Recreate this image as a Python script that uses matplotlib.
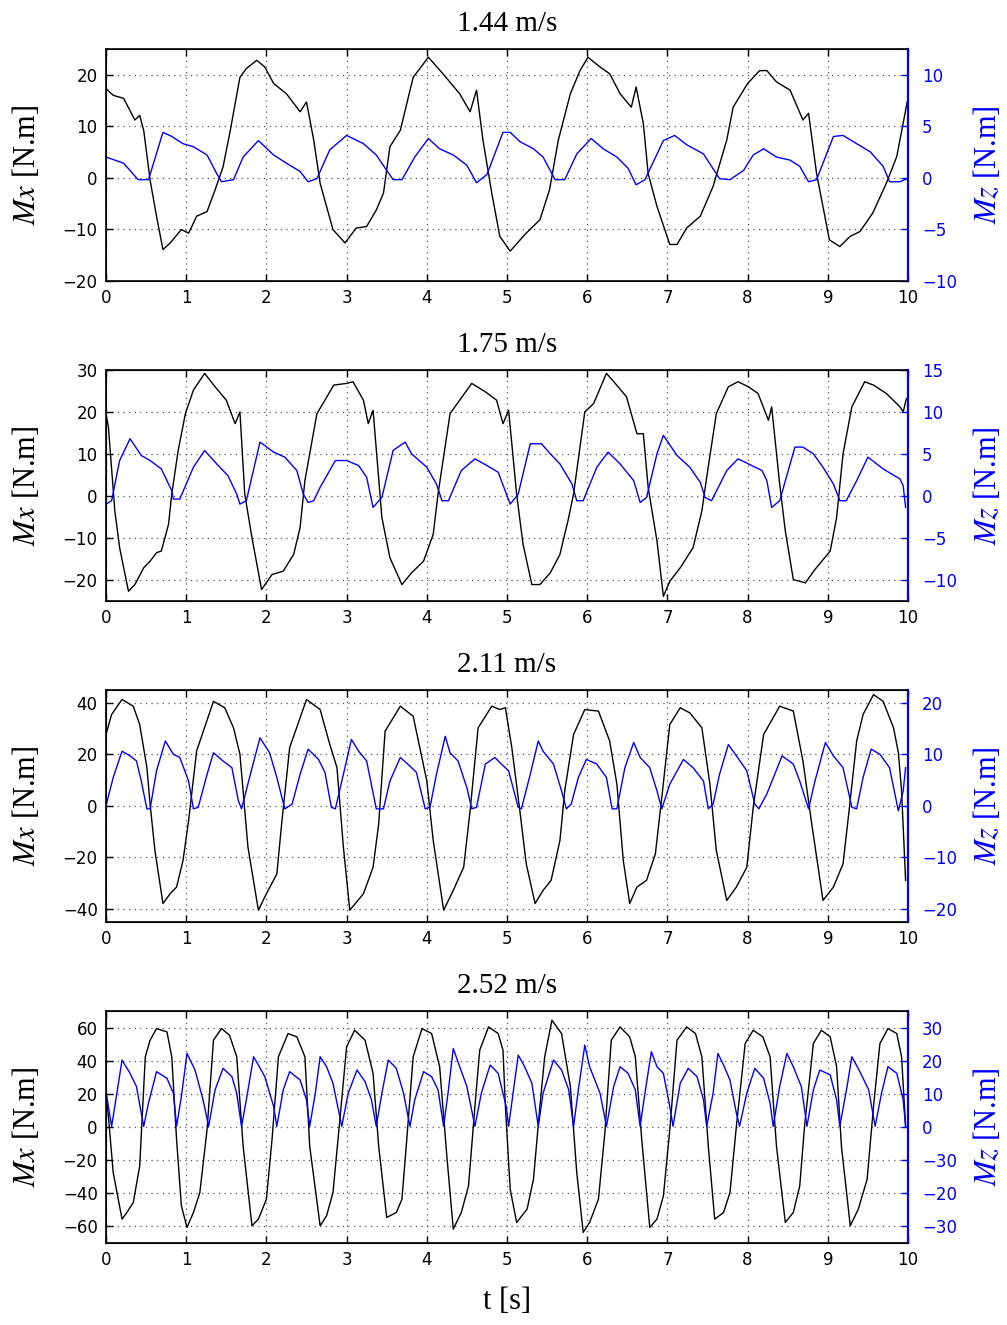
import matplotlib
matplotlib.use("Agg")
import matplotlib.pyplot as plt

plt.rcParams['mathtext.fontset'] = 'stix'
plt.rcParams['font.family'] = 'DejaVu Sans'

SERIF = 'Liberation Serif'

# ---- data (t [s], moment [N.m]) ----
titles = ["1.44 m/s", "1.75 m/s", "2.11 m/s", "2.52 m/s"]

# panel 1: 1.44 m/s
t_mx1 = [0, 0.09, 0.22, 0.36, 0.42, 0.47, 0.55, 0.63, 0.71, 0.8, 0.94, 1.03, 1.13, 1.26, 1.36,
         1.46, 1.55, 1.67, 1.75, 1.88, 1.98, 2.09, 2.25, 2.42, 2.5, 2.59, 2.67, 2.83, 2.98, 3.12,
         3.25, 3.37, 3.46, 3.54, 3.67, 3.83, 4.02, 4.2, 4.41, 4.54, 4.62, 4.7, 4.81, 4.91, 5.04,
         5.22, 5.41, 5.53, 5.64, 5.79, 5.91, 6.01, 6.16, 6.28, 6.41, 6.55, 6.61, 6.7, 6.76, 6.87,
         7.03, 7.12, 7.24, 7.41, 7.57, 7.74, 7.82, 8.0, 8.15, 8.24, 8.36, 8.53, 8.69, 8.76, 8.86,
         9.02, 9.15, 9.28, 9.4, 9.56, 9.73, 9.86, 9.99]
mx1 = [17.3, 16, 15.4, 11.2, 12.1, 9.2, -0.5, -7.5, -14, -12.7, -10.1, -10.8, -7.5, -6.6, -2.4,
       2.1, 9.2, 19.5, 21.2, 22.8, 21.5, 18.3, 16.3, 12.8, 14.7, 7.3, -1.1, -10.1, -12.7, -9.8,
       -9.5, -6.3, -3, 6, 9.2, 19.5, 23.4, 20.2, 16.3, 12.8, 17, 7.3, -3, -11.4, -14.3,
       -11.1, -8.2, -2.4, 7.3, 16.3, 20.8, 23.4, 21.5, 20.2, 16.3, 13.7, 17.6, 10.5, 0.8, -5.6,
       -13, -13, -9.8, -7.5, -1.7, 7.3, 13.7, 18.3, 20.8, 20.8, 18.6, 17, 11.2, 12.5, 0.8,
       -12.1, -13.4, -11.4, -10.5, -6.9, -1.1, 4.1, 14.7]
t_mz1 = [0, 0.22, 0.4, 0.53, 0.71, 0.82, 0.96, 1.09, 1.26, 1.38, 1.44, 1.59, 1.71, 1.9, 2.09,
         2.25, 2.42, 2.52, 2.63, 2.79, 3.0, 3.21, 3.37, 3.5, 3.58, 3.69, 3.85, 4.02, 4.16, 4.33,
         4.5, 4.62, 4.75, 4.95, 5.04, 5.16, 5.33, 5.45, 5.6, 5.72, 5.87, 6.05, 6.2, 6.37, 6.51,
         6.61, 6.72, 6.95, 7.09, 7.24, 7.45, 7.65, 7.78, 7.95, 8.07, 8.2, 8.36, 8.53, 8.65, 8.76,
         8.86, 9.07, 9.19, 9.36, 9.53, 9.69, 9.77, 9.9, 9.99]
mz1 = [2.0, 1.4, -0.2, -0.2, 4.4, 4.0, 3.3, 3.0, 2.2, 0.4, -0.4, -0.2, 2.0, 3.6, 2.2,
       1.4, 0.6, -0.4, -0.1, 2.7, 4.1, 3.3, 2.2, 0.7, -0.2, -0.2, 2.0, 3.8, 2.8, 2.2,
       1.2, -0.5, 0.3, 4.4, 4.4, 3.5, 2.8, 2.0, -0.2, -0.2, 2.3, 3.8, 2.8, 2.0, 0.9,
       -0.7, -0.2, 3.6, 4.1, 3.2, 2.3, -0.1, -0.2, 0.7, 2.2, 2.8, 2.0, 1.7, 1.1, -0.4,
       -0.2, 4.0, 4.1, 3.3, 2.5, 1.1, -0.4, -0.4, -0.1]

# panel 2: 1.75 m/s
t_mx2 = [0, 0.03, 0.11, 0.17, 0.28, 0.36, 0.47, 0.55, 0.63, 0.69, 0.78, 0.82, 0.9, 0.99, 1.09,
         1.23, 1.36, 1.5, 1.61, 1.67, 1.73, 1.82, 1.94, 2.07, 2.21, 2.34, 2.42, 2.48, 2.63, 2.73,
         2.84, 3.0, 3.08, 3.21, 3.27, 3.33, 3.44, 3.54, 3.69, 3.81, 3.96, 4.08, 4.14, 4.29, 4.41,
         4.56, 4.73, 4.87, 4.95, 5.02, 5.12, 5.2, 5.31, 5.41, 5.54, 5.66, 5.76, 5.83, 5.97, 6.08,
         6.16, 6.24, 6.35, 6.49, 6.62, 6.7, 6.76, 6.87, 6.95, 7.03, 7.16, 7.32, 7.43, 7.49, 7.61,
         7.76, 7.88, 8.01, 8.13, 8.26, 8.3, 8.4, 8.47, 8.57, 8.72, 8.84, 9.03, 9.11, 9.19, 9.3,
         9.46, 9.57, 9.73, 9.9, 9.94, 9.98]
mx2 = [19.6, 16.4, -3.6, -12.4, -22.8, -21.2, -17.2, -15.6, -13.6, -13.2, -6.8, 0.4, 10.8, 19.6, 25.2,
       29.2, 26, 22.8, 17.2, 20, 0.4, -10, -22.4, -18.8, -18, -14, -7.6, 3.6, 19.6, 22.8,
       26.4, 26.8, 27.2, 22.8, 17.2, 20.4, -5.2, -14.8, -21.2, -18.4, -15.6, -9.2, 0.4, 19.6, 22.8,
       26.8, 24.8, 22.8, 17.2, 20.4, 0.4, -11.6, -21.2, -21.2, -18.4, -14, -6, 0.4, 20, 22,
       25.6, 29.2, 26.8, 23.6, 14.8, 14.8, 2, -10.8, -24, -20.4, -17.2, -12.4, -3.6, 4.4, 19.6,
       26, 27.2, 26, 24.4, 18, 21.2, 2.8, -8.4, -20, -20.8, -17.6, -13.2, -5.2, 10, 21.2,
       27.2, 26.4, 24.4, 21.2, 20, 23.2]
t_mz2 = [0, 0.07, 0.17, 0.3, 0.44, 0.55, 0.69, 0.82, 0.84, 0.92, 1.09, 1.23, 1.38, 1.52, 1.63,
         1.67, 1.75, 1.92, 2.09, 2.23, 2.38, 2.46, 2.52, 2.59, 2.67, 2.86, 3.0, 3.15, 3.25, 3.33,
         3.44, 3.58, 3.73, 3.81, 4.0, 4.12, 4.19, 4.27, 4.43, 4.6, 4.75, 4.89, 5.04, 5.14, 5.29,
         5.43, 5.54, 5.66, 5.81, 5.87, 5.95, 6.12, 6.26, 6.41, 6.58, 6.66, 6.74, 6.87, 6.95, 7.12,
         7.28, 7.41, 7.47, 7.55, 7.74, 7.88, 8.01, 8.18, 8.24, 8.3, 8.4, 8.59, 8.69, 8.82, 8.94,
         9.07, 9.15, 9.23, 9.36, 9.5, 9.69, 9.9, 9.94, 9.97]
mz2 = [-1, -0.6, 4.2, 6.8, 4.8, 4.2, 3.2, 0.6, -0.4, -0.4, 3.4, 5.4, 3.8, 2.4, 0.2,
       -1, -0.6, 6.4, 5.2, 4.6, 3, 0.2, -0.8, -0.6, 1, 4.2, 4.2, 3.6, 2.2, -1.4,
       -0.2, 5.4, 6.4, 5, 3.4, 1.4, -0.6, -0.6, 3, 4.4, 3.6, 2.8, -1, 0.2, 6.2,
       6.2, 5, 3.8, 1.4, -0.6, -0.6, 3.4, 5.2, 3.8, 1.8, -0.8, -0.2, 5, 7.2, 4.8,
       3.4, 1.6, -0.2, -0.6, 3, 4.4, 3.8, 3, 1.8, -1.4, -0.6, 5.8, 5.8, 5, 3.4,
       1.4, -0.6, -0.6, 1.8, 4.6, 3.2, 2, 1.2, -1.4]

# panel 3: 2.11 m/s
t_mx3 = [0, 0.07, 0.2, 0.34, 0.42, 0.51, 0.55, 0.61, 0.71, 0.8, 0.88, 0.96, 1.03, 1.13, 1.34,
         1.48, 1.59, 1.67, 1.77, 1.9, 2.0, 2.13, 2.19, 2.29, 2.5, 2.67, 2.79, 2.88, 2.96, 3.04,
         3.21, 3.33, 3.4, 3.48, 3.67, 3.83, 4.0, 4.08, 4.21, 4.33, 4.46, 4.54, 4.64, 4.81, 4.91,
         4.98, 5.06, 5.16, 5.24, 5.35, 5.45, 5.55, 5.66, 5.72, 5.83, 5.97, 6.14, 6.28, 6.37, 6.45,
         6.53, 6.62, 6.74, 6.85, 6.93, 7.03, 7.16, 7.28, 7.43, 7.53, 7.61, 7.74, 7.86, 7.99, 8.07,
         8.2, 8.4, 8.57, 8.69, 8.8, 8.94, 9.07, 9.19, 9.27, 9.36, 9.44, 9.57, 9.69, 9.82, 9.88,
         9.92, 9.97]
mx3 = [27.7, 35.5, 41.3, 38.7, 31.6, 14.8, 0.6, -17.4, -38, -34.2, -31.6, -21.3, -5.8, 21.3, 40.6,
       38.1, 30.3, 20, -16.1, -40.6, -34.2, -26.5, -7.1, 22.6, 41.3, 37.4, 23.9, 14.8, -16.1, -40.6,
       -34.2, -23.9, -7.1, 29, 38.7, 34.8, 9.7, -13.5, -40.6, -32.9, -23.9, -1.9, 30.3, 38.7, 37.4,
       38.1, 22.6, -1.9, -22.6, -38, -32.9, -29, -13.5, 5.8, 27.7, 37.4, 36.8, 25.2, 8.4, -21.3,
       -38, -31.6, -29, -18.7, 3.2, 31.6, 38.1, 36.1, 30.3, 8.4, -17.4, -36.8, -31.6, -23.9, -0.6,
       27.7, 38.7, 36.8, 17.4, -7.1, -36.8, -31.6, -22.6, -0.6, 25.2, 35.5, 43.2, 40.6, 30.3, 20.6,
       5.8, -29]
t_mz3 = [0, 0.09, 0.2, 0.3, 0.38, 0.44, 0.51, 0.55, 0.63, 0.74, 0.84, 0.92, 1.03, 1.09, 1.15,
         1.26, 1.34, 1.46, 1.57, 1.65, 1.69, 1.8, 1.92, 2.04, 2.13, 2.23, 2.32, 2.42, 2.52, 2.65,
         2.73, 2.81, 2.86, 2.96, 3.06, 3.15, 3.25, 3.37, 3.46, 3.54, 3.67, 3.79, 3.87, 3.98, 4.04,
         4.12, 4.23, 4.29, 4.39, 4.5, 4.56, 4.62, 4.73, 4.85, 4.91, 5.02, 5.14, 5.18, 5.29, 5.39,
         5.45, 5.58, 5.68, 5.74, 5.8, 5.89, 5.99, 6.12, 6.24, 6.31, 6.37, 6.47, 6.58, 6.66, 6.78,
         6.87, 6.93, 7.03, 7.2, 7.32, 7.45, 7.51, 7.57, 7.65, 7.76, 7.86, 7.99, 8.09, 8.14, 8.24,
         8.43, 8.57, 8.65, 8.76, 8.84, 8.97, 9.07, 9.19, 9.3, 9.36, 9.44, 9.54, 9.65, 9.77, 9.88,
         9.94, 9.97]
mz3 = [0, 5.5, 10.6, 9.7, 8.7, 4.8, -0.6, -0.6, 6.8, 12.6, 10, 9.4, 4.8, -0.6, -0.3,
       6.1, 10.3, 8.7, 7.4, 1, -0.6, 6.1, 13.2, 10.3, 5.5, -0.6, 0.3, 6.1, 11, 9,
       6.5, -0.3, -0.6, 6.1, 12.9, 10.6, 8.7, -0.6, -0.6, 4.8, 9.4, 7.7, 6.5, -0.6, -0.3,
       6.1, 13.5, 10.3, 8.7, 3.5, -0.6, -0.3, 8.1, 9.4, 8.4, 6.8, -0.3, -0.6, 6.1, 12.6,
       10.6, 8.1, 2.9, -0.6, 0.3, 5.5, 9, 8.1, 5.5, -0.6, -0.6, 7.4, 12.3, 9.4, 7.4,
       2.9, -0.6, 4.2, 9, 7.4, 4.8, -0.6, 0.3, 6.1, 11.9, 9.7, 6.8, 0.3, -0.6, 2.3,
       9.7, 8.1, 4.8, -0.6, 4.8, 12.3, 9.7, 7.4, -0.3, -0.6, 5.5, 11, 10, 7.4, -1,
       2.9, 7.4]

# panel 4: 2.52 m/s
t_mx4 = [0, 0.03, 0.09, 0.2, 0.26, 0.34, 0.42, 0.49, 0.55, 0.63, 0.76, 0.82, 0.88, 0.94, 1.01,
         1.09, 1.17, 1.26, 1.34, 1.44, 1.54, 1.63, 1.71, 1.82, 1.9, 2.0, 2.07, 2.15, 2.27, 2.38,
         2.48, 2.54, 2.67, 2.75, 2.83, 2.92, 3.0, 3.1, 3.23, 3.33, 3.4, 3.5, 3.62, 3.69, 3.75,
         3.83, 3.94, 4.06, 4.16, 4.25, 4.33, 4.43, 4.52, 4.6, 4.66, 4.77, 4.89, 4.95, 4.98, 5.04,
         5.12, 5.25, 5.33, 5.41, 5.47, 5.56, 5.68, 5.79, 5.87, 5.95, 6.03, 6.14, 6.22, 6.3, 6.41,
         6.53, 6.6, 6.68, 6.78, 6.87, 6.95, 7.03, 7.12, 7.24, 7.35, 7.43, 7.51, 7.59, 7.7, 7.78,
         7.86, 7.97, 8.07, 8.19, 8.28, 8.36, 8.47, 8.57, 8.65, 8.71, 8.82, 8.92, 9.03, 9.11, 9.17,
         9.28, 9.38, 9.49, 9.57, 9.65, 9.75, 9.86, 9.92, 9.97]
mx4 = [20.4, 6.4, -27.6, -55.6, -51.6, -45.6, -23.6, 42.4, 52.4, 59.4, 57.4, 42.4, -7.6, -47.6, -60.6,
       -51.6, -39.6, -1.6, 52.4, 59.4, 55.4, 42.4, -11.6, -59.6, -55.6, -43.6, -7.6, 42.4, 56.4, 54.4,
       42.4, -11.6, -59.6, -53.6, -39.6, 6.4, 48.4, 58.4, 52.4, 32.4, -11.6, -54.6, -51.6, -43.6, -7.6,
       42.4, 59.4, 56.4, 36.4, -17.6, -61.6, -51.6, -35.6, 12.4, 46.4, 60.4, 56.4, 46.4, 12.4, -37.6,
       -57.6, -49.6, -31.6, 12.4, 42.4, 64.4, 56.4, 24.4, -27.6, -63.6, -57.6, -43.6, -3.6, 52.4, 60.4,
       54.4, 42.4, -7.6, -60.6, -55.6, -41.6, -1.6, 52.4, 60.4, 56.4, 42.4, -11.6, -55.6, -51.6, -39.6,
       0.4, 50.4, 58.4, 54.4, 42.4, -11.6, -57.6, -51.6, -35.6, 0.4, 50.4, 58.4, 54.4, 36.4, -11.6,
       -59.6, -49.6, -31.6, 12.4, 50.4, 59.4, 56.4, 42.4, 0.4]
t_mz4 = [0, 0.07, 0.11, 0.2, 0.3, 0.38, 0.47, 0.53, 0.63, 0.76, 0.84, 0.88, 0.94, 1.01, 1.11,
         1.21, 1.28, 1.36, 1.46, 1.57, 1.63, 1.69, 1.75, 1.84, 1.9, 1.98, 2.09, 2.13, 2.21, 2.29,
         2.42, 2.5, 2.54, 2.61, 2.67, 2.75, 2.83, 2.94, 3.02, 3.13, 3.23, 3.31, 3.37, 3.44, 3.52,
         3.62, 3.71, 3.79, 3.85, 3.96, 4.06, 4.14, 4.21, 4.27, 4.33, 4.41, 4.5, 4.6, 4.68, 4.79,
         4.89, 4.99, 5.02, 5.14, 5.22, 5.31, 5.39, 5.45, 5.58, 5.68, 5.77, 5.83, 5.89, 5.97, 6.03,
         6.16, 6.24, 6.33, 6.41, 6.51, 6.6, 6.66, 6.72, 6.8, 6.87, 6.95, 7.03, 7.07, 7.16, 7.26,
         7.37, 7.45, 7.49, 7.57, 7.63, 7.7, 7.78, 7.86, 7.9, 7.99, 8.09, 8.2, 8.28, 8.32, 8.4,
         8.49, 8.57, 8.67, 8.74, 8.82, 8.9, 9.03, 9.11, 9.15, 9.24, 9.3, 9.4, 9.51, 9.59, 9.67,
         9.75, 9.86, 9.94, 9.97]
mz4 = [10.7, 0.2, 6.2, 20.2, 16.2, 12.2, 0.2, 7.2, 16.7, 14.7, 10.2, 0.2, 9.2, 22.2, 17.2,
       8.2, 0.2, 11.2, 17.7, 15.2, 10.2, 0.2, 8.2, 21.2, 18.7, 15.2, 6.2, 0.2, 11.2, 16.7,
       14.2, 8.2, 0.2, 10.2, 21.2, 18.2, 13.2, 0.2, 10.2, 17.2, 13.7, 8.2, 0.2, 10.2, 20.2,
       17.7, 10.2, 0.2, 8.2, 16.7, 15.2, 11.2, 0.2, 11.2, 23.7, 18.2, 12.2, 0.2, 10.2, 18.7,
       16.2, 6.2, 0.2, 21.7, 18.2, 13.2, 0.2, 10.2, 20.2, 17.2, 11.2, 0.2, 11.2, 24.7, 18.2,
       10.2, 0.2, 12.2, 18.2, 16.2, 11.2, 0.2, 10.2, 22.7, 18.2, 16.2, 6.2, 0.2, 13.2, 17.7,
       15.2, 8.2, 0.2, 10.2, 22.2, 18.7, 14.2, 4.2, 0.2, 10.2, 17.7, 14.7, 7.2, 0.2, 12.2,
       22.2, 18.2, 12.2, 0.2, 11.2, 17.2, 15.7, 8.2, 0.2, 12.2, 21.2, 16.7, 11.2, 0.2, 10.2,
       18.2, 16.2, 8.2, 0.2]

# axis limits and ticks per panel
mx_lims = [(-20, 25), (-25, 30), (-45, 45), (-70, 70)]
mx_ticks = [[-20, -10, 0, 10, 20], [-20, -10, 0, 10, 20, 30], [-40, -20, 0, 20, 40],
            [-60, -40, -20, 0, 20, 40, 60]]
mz_lims = [(-10, 12.5), (-12.5, 15), (-22.5, 22.5), (-35, 35)]
mz_ticks = [[-10, -5, 0, 5, 10], [-10, -5, 0, 5, 10, 15], [-20, -10, 0, 10, 20],
            [-30, -20, -10, 0, 10, 20, 30]]
# the last panel's right axis carries these labels in the original figure
mz_labels4 = ['\u221230', '\u221220', '\u221230', '0', '10', '20', '30']

panels = [(t_mx1, mx1, t_mz1, mz1), (t_mx2, mx2, t_mz2, mz2),
          (t_mx3, mx3, t_mz3, mz3), (t_mx4, mx4, t_mz4, mz4)]

fig = plt.figure(figsize=(10.07, 13.25), dpi=100)
fig.patch.set_facecolor('white')

W, H = 1007.0, 1325.0
x0, x1 = 106, 908
tops = [49, 370, 690, 1011]
bots = [280.5, 600.5, 921.5, 1243]

for i, (tx, mx, tz, mz) in enumerate(panels):
    rect = [x0 / W, 1 - bots[i] / H, (x1 - x0) / W, (bots[i] - tops[i]) / H]
    ax = fig.add_axes(rect)
    ax.plot(tx, mx, color='black', lw=1.0)
    ax.set_xlim(0, 10)
    ax.set_ylim(*mx_lims[i])
    ax.set_xticks(range(11))
    ax.set_yticks(mx_ticks[i])
    ax.grid(True, color='0.35', linestyle=(0, (1, 3.5)), lw=0.9)
    ax.tick_params(direction='in', length=5, width=1, labelsize=12, top=True, right=False)
    ax.tick_params(axis='x', pad=6)
    ax.tick_params(axis='y', pad=6)
    for s in ax.spines.values():
        s.set_linewidth(1.2)
    ax.set_title(titles[i], fontsize=21, family=SERIF, pad=13)
    ax.set_ylabel('$Mx$ [N.m]', fontsize=22, family=SERIF)
    ax.yaxis.set_label_coords(-0.08, 0.5)

    ax2 = ax.twinx()
    ax2.plot(tz, mz, color='blue', lw=1.0)
    ax2.set_ylim(*mz_lims[i])
    ax2.set_yticks(mz_ticks[i])
    if i == 3:
        ax2.set_yticklabels(mz_labels4)
    ax2.tick_params(axis='y', direction='in', length=5, width=1, labelsize=12,
                    colors='blue', pad=10)
    ax2.spines['right'].set_color('blue')
    ax2.spines['right'].set_linewidth(1.6)
    ax2.set_ylabel('$Mz$ [N.m]', fontsize=22, family=SERIF, color='blue')
    ax2.yaxis.set_label_coords(1.08, 0.5)

    if i == 3:
        ax.set_xlabel('t [s]', fontsize=22, family=SERIF)
        ax.xaxis.set_label_coords(0.5, -0.19)

fig.savefig('out.png', dpi=100, facecolor='white')
